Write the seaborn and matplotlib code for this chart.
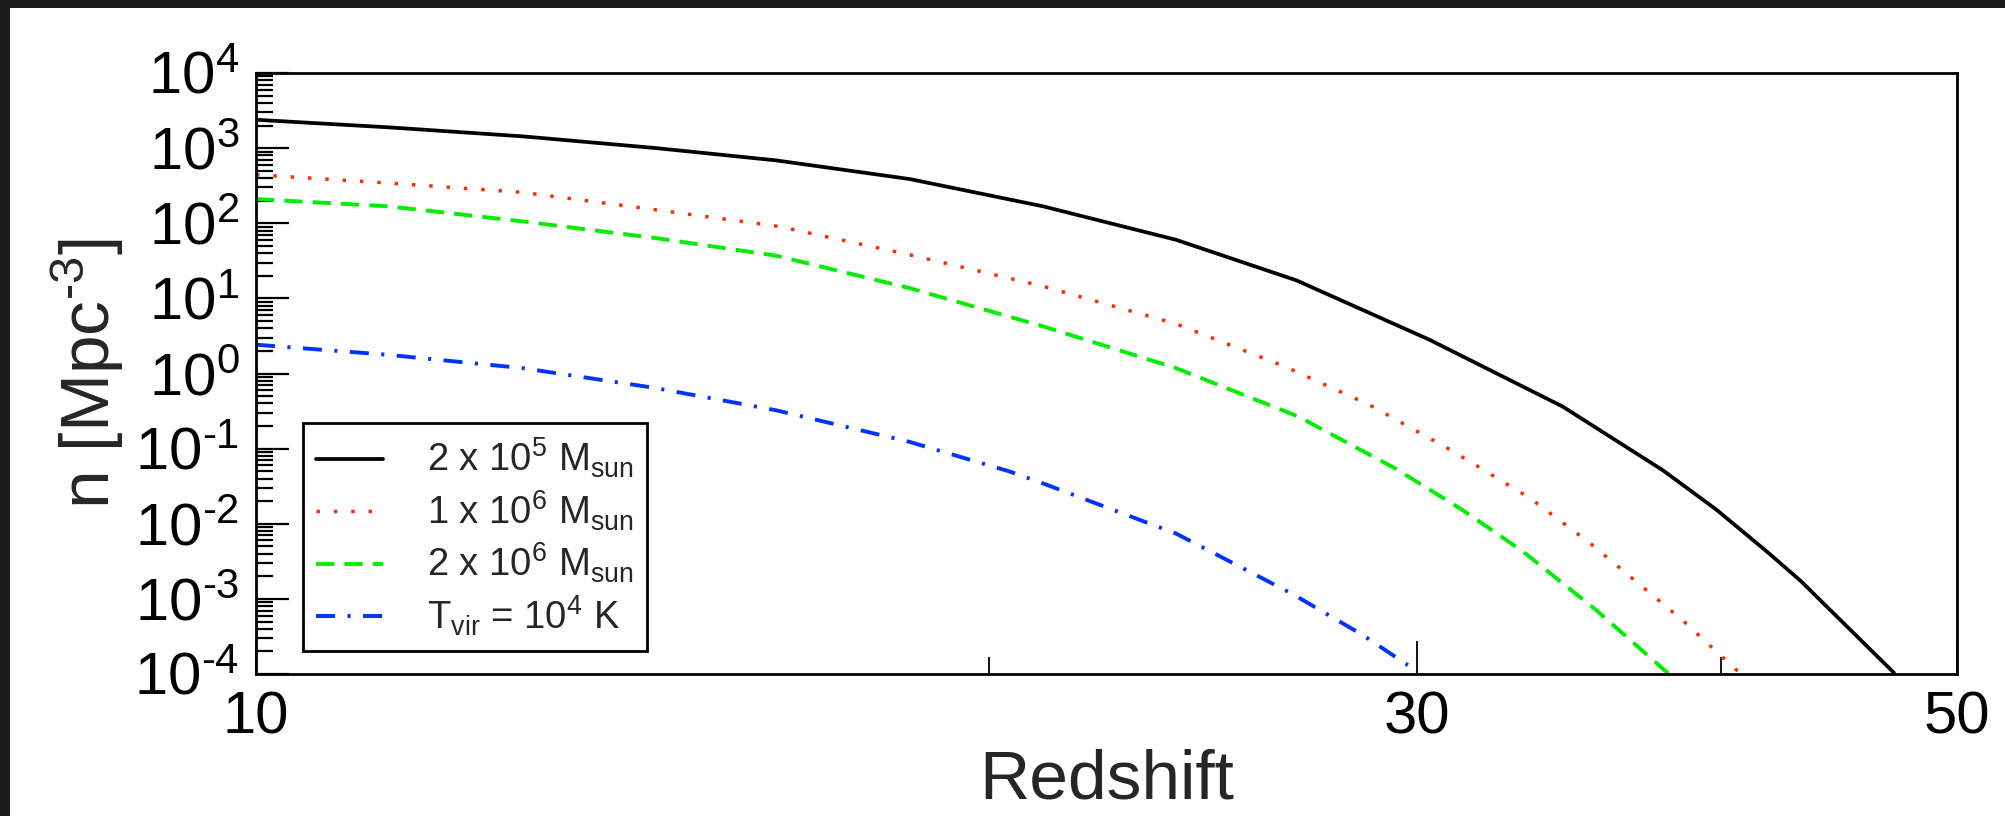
import numpy as np
import pandas as pd
import matplotlib
matplotlib.use("Agg")
import matplotlib.pyplot as plt
import seaborn as sns
from matplotlib.ticker import FixedLocator, FuncFormatter, NullFormatter, LogLocator
from matplotlib.patches import Rectangle

# ---- data ----
z_black = [10, 11.34, 12.87, 14.6, 16.36, 18.56, 21.06, 23.88, 26.76, 30.35,
           34.43, 37.86, 39.84, 41.8, 43.12, 47.1]
n_black = [2388, 1892, 1436, 1002, 687, 388, 168, 60.3, 17.4, 2.82,
           0.363, 0.0513, 0.0152, 0.00417, 0.00174, 0.000104]

z_red = [10, 11.34, 12.87, 14.6, 16.4, 18.56, 21.06, 23.88, 26.5, 28.69,
         30.94, 33.37, 35.32, 38.59, 40.27, 40.7]
n_red = [443, 343, 258, 151, 90.8, 38.1, 14.5, 4.59, 1.22, 0.379,
         0.0975, 0.0221, 0.00557, 0.000509, 0.000142, 0.000104]

z_green = [10, 11.34, 12.87, 14.6, 16.36, 18.56, 21.06, 23.88, 26.8, 29.41,
           31.33, 33.16, 35.54, 38.04]
n_green = [210, 168, 106, 63.5, 37.0, 13.7, 4.24, 1.18, 0.269, 0.0537,
           0.0151, 0.00427, 0.000708, 0.000102]

z_blue = [10, 11.34, 12.87, 14.6, 16.36, 18.56, 20.4, 21.06, 23.88, 26.64,
          28.5, 29.74]
n_blue = [2.42, 1.77, 1.18, 0.640, 0.324, 0.123, 0.0497, 0.0344, 0.00741,
          0.00118, 0.000329, 0.000131]

labels = [r"2 x 10$^{\mathregular{5}}$ M$_{\mathregular{sun}}$",
          r"1 x 10$^{\mathregular{6}}$ M$_{\mathregular{sun}}$",
          r"2 x 10$^{\mathregular{6}}$ M$_{\mathregular{sun}}$",
          r"T$_{\mathregular{vir}}$ = 10$^{\mathregular{4}}$ K"]

x_major = [10, 30, 50]
x_minor = [20, 40]
y_exponents = list(range(-4, 5))

# ---- style ----
sns.set_style("white")
plt.rcParams["font.family"] = ["Liberation Sans", "DejaVu Sans"]
plt.rcParams["mathtext.fontset"] = "custom"
plt.rcParams["mathtext.rm"] = "Liberation Sans"
plt.rcParams["mathtext.it"] = "Liberation Sans:italic"
plt.rcParams["mathtext.bf"] = "Liberation Sans:bold"

fig = plt.figure(figsize=(20.06, 8.16), dpi=100, facecolor="white")
ax = fig.add_axes([0.1276, 0.174, 0.8480, 0.7365])

series = [
    (z_black, n_black, "#000000", "-", 2.7),
    (z_red, n_red, "#ff2a00", (0, (1, 4.0)), 2.5),
    (z_green, n_green, "#00ee00", (0, (4.7, 2.6)), 2.8),
    (z_blue, n_blue, "#0033ff", (0, (4.9, 3.2, 0.8, 3.2)), 2.8),
]
for (zz, nn, col, ls, lw), lab in zip(series, labels):
    df = pd.DataFrame({"z": zz, "n": nn})
    sns.lineplot(data=df, x="z", y="n", ax=ax, color=col, linewidth=lw,
                 linestyle=ls, label=lab, sort=False)

ax.set_xscale("log")
ax.set_yscale("log")
ax.set_xlim(10, 50)
ax.set_ylim(1e-4, 1e4)

ax.xaxis.set_major_locator(FixedLocator(x_major))
ax.xaxis.set_minor_locator(FixedLocator(x_minor))
ax.xaxis.set_major_formatter(FuncFormatter(lambda v, p: "%d" % round(v)))
ax.xaxis.set_minor_formatter(NullFormatter())

ax.yaxis.set_major_locator(FixedLocator([10.0 ** e for e in y_exponents]))
ax.yaxis.set_minor_locator(LogLocator(base=10, subs=np.arange(2, 10), numticks=100))
ax.yaxis.set_major_formatter(FuncFormatter(
    lambda v, p: r"$\mathregular{10^{%s}}$" % ("\\text{-}%d" % abs(round(np.log10(v))) if v < 1 else "%d" % round(np.log10(v)))))
ax.yaxis.set_minor_formatter(NullFormatter())

ax.tick_params(axis="both", which="both", direction="in", top=False, right=False,
               bottom=True, left=True, colors="black")
ax.tick_params(axis="y", which="major", length=24, width=1.6, labelsize=43, pad=12)
ax.tick_params(axis="y", which="minor", length=12, width=1.6)
ax.tick_params(axis="x", which="major", length=24, width=1.3, labelsize=43, pad=12)
ax.tick_params(axis="x", which="minor", length=12, width=1.3)

for s in ax.spines.values():
    s.set_linewidth(2.0)
    s.set_color("black")

ax.set_xlabel("Redshift", fontsize=50, labelpad=2)
ax.set_ylabel(r"n [Mpc$^{\mathregular{\text{-}3}}$]", fontsize=50, labelpad=6)

leg = ax.legend(loc="lower left", bbox_to_anchor=(0.0276, 0.038), borderaxespad=0,
                fontsize=27.5, frameon=True, fancybox=False, shadow=False,
                handlelength=1.75, handletextpad=1.15, borderpad=0.35,
                labelspacing=0.22)
leg.get_frame().set_edgecolor("black")
leg.get_frame().set_linewidth(2.0)
leg.get_frame().set_alpha(1)

# dark slide border visible at top and left of the screenshot
fig.patches.append(Rectangle((0, 1 - 8 / 816), 1, 8 / 816, transform=fig.transFigure,
                             facecolor="#1b1b1b", edgecolor="none", zorder=10))
fig.patches.append(Rectangle((0, 0), 10 / 2006, 1, transform=fig.transFigure,
                             facecolor="#1b1b1b", edgecolor="none", zorder=10))

fig.savefig("out.png", dpi=100, facecolor=fig.get_facecolor())
